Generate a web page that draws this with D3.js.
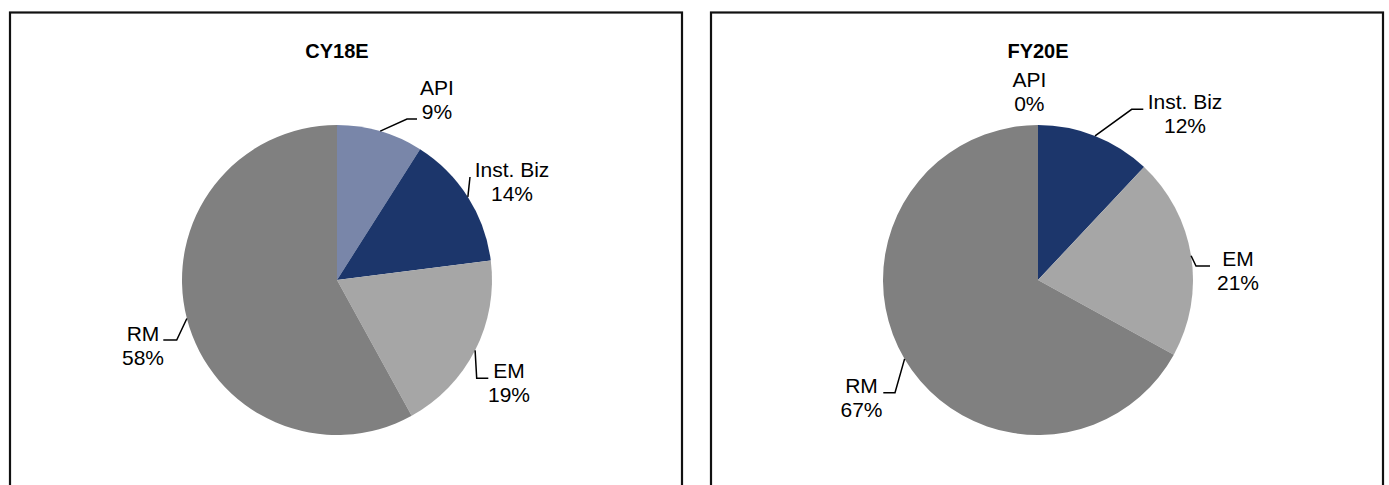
<!DOCTYPE html>
<html>
<head>
<meta charset="utf-8">
<script src="https://cdn.jsdelivr.net/npm/d3@7"></script>
<style>
  html, body { margin: 0; padding: 0; background: #fff; }
  svg { display: block; }
  text { font-family: Arial, "Liberation Sans", sans-serif; fill: #000; }
</style>
</head>
<body>
<svg id="chart" width="1389" height="485"></svg>
<script>
// Revenue mix by business line
const categories = ["API", "Inst. Biz", "EM", "RM"];
const chartTitles = ["CY18E", "FY20E"];
const cy18eShares = [9, 14, 19, 58];
const fy20eShares = [0, 12, 21, 67];
const sliceColors = ["#7986A9", "#1C366B", "#A6A6A6", "#808080"];

// Label placement relative to each pie centre: text anchor, leader elbow, leader end
const cy18eLabelLayout = [
  { tx: 100, ty: -185, elbow: [70, -161], end: [80, -161] },
  { tx: 175, ty: -103, elbow: [133, -103], end: [133, -103] },
  { tx: 172, ty: 98, elbow: [139.7, 98.3], end: [151.3, 98.3] },
  { tx: -194, ty: 60.7, elbow: [-160.3, 60], end: [-173.7, 60] }
];
const fy20eLabelLayout = [
  { tx: -8.7, ty: -193.3, elbow: null, end: null },
  { tx: 147, ty: -170.7, elbow: [93.7, -170.7], end: [105.3, -170.7] },
  { tx: 200, ty: -14, elbow: [158, -14], end: [172, -14] },
  { tx: -176.5, ty: 113.3, elbow: [-143, 112.7], end: [-154.7, 112.7] }
];

const svg = d3.select("#chart");
const radius = 155;
const panels = [
  { title: chartTitles[0], values: cy18eShares, layout: cy18eLabelLayout, frameX: 10, cx: 337 },
  { title: chartTitles[1], values: fy20eShares, layout: fy20eLabelLayout, frameX: 711, cx: 1038 }
];
const cy = 280;

const pie = d3.pie().sort(null).value(d => d.value);
const arc = d3.arc().innerRadius(0).outerRadius(radius);
const color = d3.scaleOrdinal().domain(categories).range(sliceColors);
const line = d3.line();

panels.forEach(p => {
  // panel frame (open at the bottom edge of the page)
  svg.append("rect")
    .attr("x", p.frameX).attr("y", 12.5)
    .attr("width", 672).attr("height", 520)
    .attr("fill", "none")
    .attr("stroke", "#111")
    .attr("stroke-width", 2.2);

  svg.append("text")
    .attr("x", p.cx).attr("y", 58)
    .attr("text-anchor", "middle")
    .style("font-size", "20px")
    .style("font-weight", "bold")
    .text(p.title);

  const g = svg.append("g").attr("transform", `translate(${p.cx},${cy})`);
  const data = categories.map((c, i) => ({ name: c, value: p.values[i] }));
  const arcs = pie(data);

  g.selectAll("path.slice")
    .data(arcs)
    .join("path")
    .attr("class", "slice")
    .attr("d", arc)
    .attr("fill", d => color(d.data.name));

  arcs.forEach((a, i) => {
    const lay = p.layout[i];
    const mid = (a.startAngle + a.endAngle) / 2;
    if (lay.elbow) {
      const start = [radius * Math.sin(mid), -radius * Math.cos(mid)];
      g.append("path")
        .attr("d", line([start, lay.elbow, lay.end]))
        .attr("fill", "none")
        .attr("stroke", "#000")
        .attr("stroke-width", 1.5);
    }
    const t = g.append("text")
      .attr("text-anchor", "middle")
      .style("font-size", "21px");
    t.append("tspan").attr("x", lay.tx).attr("y", lay.ty).text(a.data.name);
    t.append("tspan").attr("x", lay.tx).attr("y", lay.ty + 24).text(d3.format(".0f")(a.data.value) + "%");
  });
});
</script>
</body>
</html>
